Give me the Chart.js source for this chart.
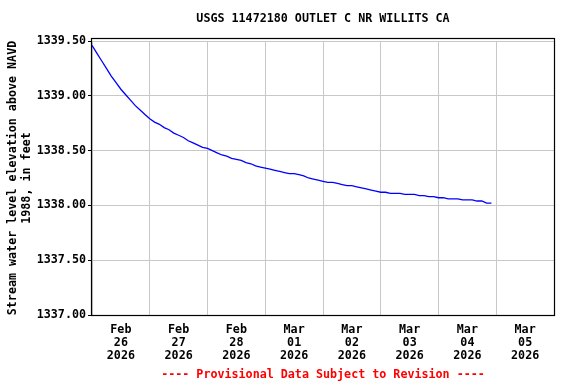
<!DOCTYPE html>
<html>
<head>
<meta charset="utf-8">
<script src="https://cdn.jsdelivr.net/npm/chart.js@4"></script>
<style>
  html, body { margin: 0; padding: 0; background: #fff; }
  #wrap { width: 576px; height: 384px; }
</style>
</head>
<body>
<div id="wrap"><canvas id="chart" width="576" height="384"></canvas></div>
<script>
// gage height readings, every 2 hours starting Feb 26 2026 00:00
const hoursBetweenReadings = 2;
const levels = [
  1339.46, 1339.39, 1339.32, 1339.25, 1339.18, 1339.12, 1339.06, 1339.01, 1338.96, 1338.91, 1338.87, 1338.83,
  1338.79, 1338.76, 1338.74, 1338.71, 1338.69, 1338.66, 1338.64, 1338.62, 1338.59, 1338.57, 1338.55, 1338.53,
  1338.52, 1338.50, 1338.48, 1338.46, 1338.45, 1338.43, 1338.42, 1338.41, 1338.39, 1338.38, 1338.36, 1338.35,
  1338.34, 1338.33, 1338.32, 1338.31, 1338.30, 1338.29, 1338.29, 1338.28, 1338.27, 1338.25, 1338.24, 1338.23,
  1338.22, 1338.21, 1338.21, 1338.20, 1338.19, 1338.18, 1338.18, 1338.17, 1338.16, 1338.15, 1338.14, 1338.13,
  1338.12, 1338.12, 1338.11, 1338.11, 1338.11, 1338.10, 1338.10, 1338.10, 1338.09, 1338.09, 1338.08, 1338.08,
  1338.07, 1338.07, 1338.06, 1338.06, 1338.06, 1338.05, 1338.05, 1338.05, 1338.04, 1338.04, 1338.02, 1338.02
];
const dayLabels = [
  ["Feb", "26", "2026"], ["Feb", "27", "2026"], ["Feb", "28", "2026"], ["Mar", "01", "2026"],
  ["Mar", "02", "2026"], ["Mar", "03", "2026"], ["Mar", "04", "2026"], ["Mar", "05", "2026"]
];
const yTicks = [1337.0, 1337.5, 1338.0, 1338.5, 1339.0, 1339.5];

const chartTitle = "USGS 11472180 OUTLET C NR WILLITS CA";
const yTitle = ["Stream water level elevation above NAVD", "1988, in feet"];
const footerText = "---- Provisional Data Subject to Revision ----";

const FONT = "'DejaVu Sans Mono', monospace";

const points = levels.map((v, i) => ({ x: i * hoursBetweenReadings, y: v }));

// title, footer and the black frame round the plot
const framePlugin = {
  id: "frame",
  afterDraw(chart) {
    const { ctx, chartArea: a } = chart;
    const cx = (a.left + a.right) / 2;
    ctx.save();
    ctx.strokeStyle = "#000";
    ctx.lineWidth = 1.2;
    // frame sits a little above the top gridline, like the original
    ctx.strokeRect(Math.round(a.left) - 0.5, Math.round(a.top) - 2.5,
      Math.round(a.right - a.left) + 1, Math.round(a.bottom - a.top) + 3);
    ctx.font = "bold 11.7px " + FONT;
    ctx.textAlign = "center";
    ctx.textBaseline = "middle";
    ctx.fillStyle = "#000";
    ctx.fillText(chartTitle, cx, 19);
    ctx.fillStyle = "#ff0000";
    ctx.fillText(footerText, cx, 375);
    ctx.restore();
  }
};

new Chart(document.getElementById("chart"), {
  type: "line",
  data: {
    datasets: [{
      data: points,
      borderColor: "#0000ff",
      borderWidth: 1.3,
      pointRadius: 0,
      tension: 0,
      fill: false
    }]
  },
  options: {
    responsive: false,
    animation: false,
    layout: { padding: { top: 41, right: 22, bottom: 0, left: 0 } },
    plugins: { legend: { display: false }, tooltip: { enabled: false } },
    scales: {
      x: {
        type: "linear",
        min: 0,
        max: dayLabels.length * 24,
        afterBuildTicks(scale) {
          scale.ticks = dayLabels.map((_, i) => ({ value: 12 + i * 24 }));
        },
        afterFit(scale) { scale.height = 69; },
        grid: { color: "#c8c8c8", offset: true, drawTicks: false },
        border: { display: false },
        ticks: {
          maxRotation: 0,
          autoSkip: false,
          padding: 8,
          color: "#000",
          font: { family: FONT, size: 11.7, weight: "bold", lineHeight: 1.11 },
          callback: (v, i) => dayLabels[i]
        }
      },
      y: {
        min: yTicks[0],
        max: yTicks[yTicks.length - 1],
        afterBuildTicks(scale) {
          scale.ticks = yTicks.map(v => ({ value: v }));
        },
        afterFit(scale) { scale.width = 92; },
        grid: { color: "#c8c8c8", tickColor: "#000", tickLength: 4 },
        border: { display: false },
        ticks: {
          padding: 2,
          color: "#000",
          font: { family: FONT, size: 11.7, weight: "bold" },
          callback: v => v.toFixed(2)
        },
        title: {
          display: true,
          text: yTitle,
          color: "#000",
          padding: { top: 5.5, bottom: 0 },
          font: { family: FONT, size: 11.7, weight: "bold", lineHeight: 1.2 }
        }
      }
    }
  },
  plugins: [framePlugin]
});
</script>
</body>
</html>
